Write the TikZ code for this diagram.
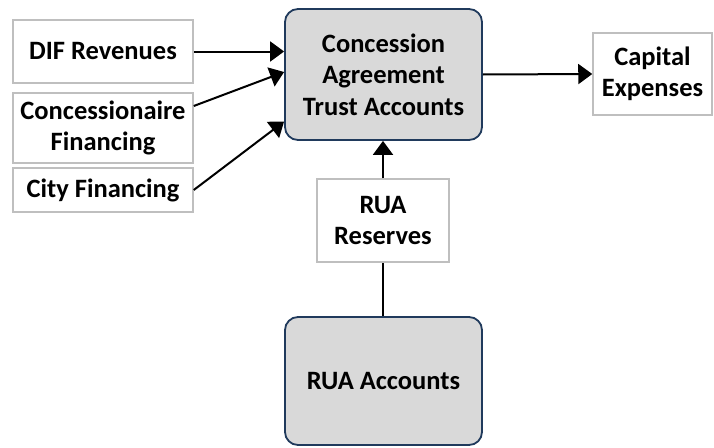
\documentclass[tikz,border=0pt]{standalone}
\usepackage{fontspec}
\setmainfont{Carlito}
\usetikzlibrary{arrows.meta,calc}
\definecolor{boxgray}{HTML}{BFBFBF}
\definecolor{mainfill}{HTML}{D9D9D9}
\definecolor{mainborder}{HTML}{203A5C}
\tikzset{
  plainbox/.style={draw=boxgray, line width=1.5pt, fill=white, align=center,
    inner sep=0pt, font=\fontsize{26.5}{31.5}\selectfont\bfseries},
  mainbox/.style={draw=mainborder, line width=1.8pt, fill=mainfill, rounded corners=13pt,
    align=center, inner sep=0pt, font=\fontsize{26.5}{31.5}\selectfont\bfseries},
  flow/.style={line width=2pt, -{Triangle[length=14pt,width=20pt]}},
  link/.style={line width=2pt}
}
\begin{document}
\begin{tikzpicture}[x=1pt,y=-1pt]
\useasboundingbox (0,0) rectangle (714,447);
\node[plainbox, minimum width=180pt, minimum height=63pt] (dif) at (103,51.5) {DIF Revenues};
\node[plainbox, minimum width=180pt, minimum height=70pt] (conc) at (103,128) {Concessionaire\\Financing};
\node[plainbox, minimum width=180pt, minimum height=44pt] (city) at (103,190) {City Financing};
\node[mainbox, minimum width=197pt, minimum height=131pt] (main) at (383.5,74.5) {Concession\\Agreement\\Trust Accounts};
\node[plainbox, minimum width=119pt, minimum height=82pt] (cap) at (652.5,74) {Capital\\Expenses};
\node[plainbox, minimum width=132pt, minimum height=83pt] (res) at (383,220.5) {RUA\\Reserves};
\node[mainbox, minimum width=197pt, minimum height=128pt] (acc) at (383.5,381) {RUA Accounts};
\draw[flow] (dif.east) -- (dif.east -| main.west);
\draw[flow] ([yshift=22pt]conc.east) -- ([yshift=2.5pt]main.west);
\draw[flow] (city.east) -- ([yshift=-47pt]main.west);
\draw[flow] (main.east) -- (cap.west);
\draw[flow] (res.north) -- (res.north |- main.south);
\draw[link] (acc.north -| res.south) -- (res.south);
\end{tikzpicture}
\end{document}
